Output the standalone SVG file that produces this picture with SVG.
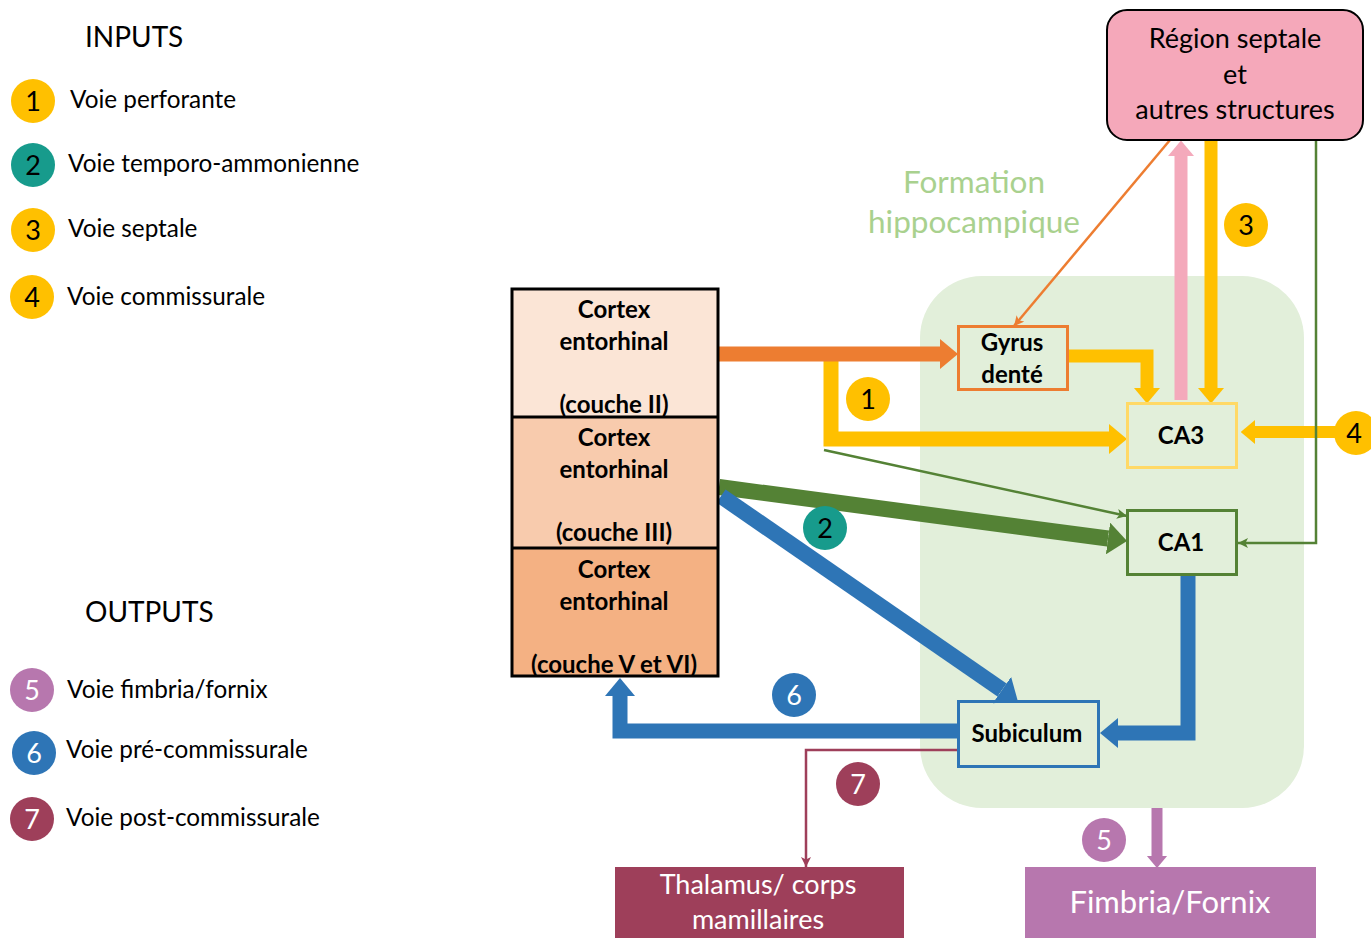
<svg xmlns="http://www.w3.org/2000/svg" width="1371" height="938" viewBox="0 0 1371 938">
<style>
  text { font-family: Lato, "Liberation Sans", sans-serif; }
  .leg { font-size: 24.3px; fill: #000; }
  .head { font-size: 28px; fill: #000; }
  .num { font-size: 27px; text-anchor: middle; }
  .nb { fill: #000; }
  .nw { fill: #fff; }
  .bold { font-weight: bold; font-size: 24px; text-anchor: middle; fill: #000; }
  .thick { fill: none; stroke-linejoin: miter; stroke-linecap: butt; }
  .thin { fill: none; stroke-width: 2.5; }
</style>
<defs>
  <marker id="hOr" viewBox="0 0 12 20" refX="0" refY="10" markerWidth="1.2" markerHeight="2" orient="auto"><path d="M0,0 L12,10 L0,20 Z" fill="#ED7D31"/></marker>
  <marker id="hYe" viewBox="0 0 12 20" refX="0" refY="10" markerWidth="1.2" markerHeight="2" orient="auto"><path d="M0,0 L12,10 L0,20 Z" fill="#FFC000"/></marker>
  <marker id="hGr" viewBox="0 0 12 20" refX="0" refY="10" markerWidth="1.2" markerHeight="2" orient="auto"><path d="M0,0 L12,10 L0,20 Z" fill="#548235"/></marker>
  <marker id="hBl" viewBox="0 0 12 20" refX="0" refY="10" markerWidth="1.2" markerHeight="2" orient="auto"><path d="M0,0 L12,10 L0,20 Z" fill="#2E75B6"/></marker>
  <marker id="hPk" viewBox="0 0 12 20" refX="0" refY="10" markerWidth="1.2" markerHeight="2" orient="auto"><path d="M0,0 L12,10 L0,20 Z" fill="#F4A9BB"/></marker>
  <marker id="hPu" viewBox="0 0 12 20" refX="0" refY="10" markerWidth="1.1" markerHeight="2.3" orient="auto"><path d="M0,0 L12,10 L0,20 Z" fill="#B777AE"/></marker>
  <marker id="tOr" viewBox="0 0 10 10" refX="10" refY="5" markerWidth="4" markerHeight="4" orient="auto"><path d="M0,0 L10,5 L0,10 L2.5,5 Z" fill="#ED7D31"/></marker>
  <marker id="tGr" viewBox="0 0 10 10" refX="10" refY="5" markerWidth="4" markerHeight="4" orient="auto"><path d="M0,0 L10,5 L0,10 L2.5,5 Z" fill="#548235"/></marker>
  <marker id="tDr" viewBox="0 0 10 10" refX="10" refY="5" markerWidth="4" markerHeight="4" orient="auto"><path d="M0,0 L10,5 L0,10 L2.5,5 Z" fill="#9E3F5A"/></marker>
</defs>
<rect width="1371" height="938" fill="#fff"/>

<!-- Legend -->
<g id="legend">
  <text class="head" x="85" y="47">INPUTS</text>
  <circle cx="33" cy="101" r="22" fill="#FFC000"/><text class="num nb" x="33" y="111">1</text>
  <text class="leg" x="70" y="108">Voie perforante</text>
  <circle cx="33" cy="165" r="22" fill="#179B8C"/><text class="num nb" x="33" y="175">2</text>
  <text class="leg" x="68" y="172">Voie temporo-ammonienne</text>
  <circle cx="33" cy="230" r="22" fill="#FFC000"/><text class="num nb" x="33" y="240">3</text>
  <text class="leg" x="68" y="237">Voie septale</text>
  <circle cx="32" cy="297" r="22" fill="#FFC000"/><text class="num nb" x="32" y="307">4</text>
  <text class="leg" x="67" y="305">Voie commissurale</text>

  <text class="head" x="85" y="622">OUTPUTS</text>
  <circle cx="32" cy="690" r="22" fill="#B777AE"/><text class="num nw" x="32" y="700">5</text>
  <text class="leg" x="67" y="698">Voie fimbria/fornix</text>
  <circle cx="34" cy="753" r="22" fill="#2E75B6"/><text class="num nw" x="34" y="763">6</text>
  <text class="leg" x="66" y="758">Voie pré-commissurale</text>
  <circle cx="32" cy="819" r="22" fill="#9E3F5A"/><text class="num nw" x="32" y="829">7</text>
  <text class="leg" x="66" y="826">Voie post-commissurale</text>
</g>

<!-- Hippocampal formation region -->
<g id="formation">
  <rect x="920" y="276" width="384" height="532" rx="62" fill="#E2EFDA"/>
  <text x="974" y="193" font-size="31.5" fill="#A9D18E" text-anchor="middle">Formation</text>
  <text x="974" y="233" font-size="31.5" fill="#A9D18E" text-anchor="middle">hippocampique</text>
</g>

<!-- Connectors -->
<g id="connectors">
  <path class="thick" d="M831,361 V439 H1109" stroke="#FFC000" stroke-width="15" marker-end="url(#hYe)"/>
  <path class="thick" d="M719,354 H940" stroke="#ED7D31" stroke-width="15" marker-end="url(#hOr)"/>
  <path class="thick" d="M1068,356 H1147 V388" stroke="#FFC000" stroke-width="13" marker-end="url(#hYe)"/>
  <path class="thick" d="M1211,140 V388" stroke="#FFC000" stroke-width="13" marker-end="url(#hYe)"/>
  <path class="thick" d="M1181,400 V156" stroke="#F4A9BB" stroke-width="13" marker-end="url(#hPk)"/>
  <path class="thick" d="M1336,432 H1255" stroke="#FFC000" stroke-width="12" marker-end="url(#hYe)"/>
  <path class="thick" d="M719,487 L1108,538.5" stroke="#548235" stroke-width="16" marker-end="url(#hGr)"/>
  <path class="thick" d="M721,496 L1002,690" stroke="#2E75B6" stroke-width="16" marker-end="url(#hBl)"/>
  <path class="thick" d="M1188,575 V733 H1118" stroke="#2E75B6" stroke-width="15" marker-end="url(#hBl)"/>
  <path class="thick" d="M958,731 H620 V696" stroke="#2E75B6" stroke-width="15" marker-end="url(#hBl)"/>
  <path class="thick" d="M1157,808 V856" stroke="#B777AE" stroke-width="11" marker-end="url(#hPu)"/>
  <path class="thin" d="M824,450 L1127,516" stroke="#548235" marker-end="url(#tGr)"/>
  <path class="thin" d="M1170,140 L1014,326" stroke="#ED7D31" marker-end="url(#tOr)"/>
  <path class="thin" d="M1316,140 V543 H1238" stroke="#548235" marker-end="url(#tGr)"/>
  <path class="thin" d="M958,750 H806 V867" stroke="#9E3F5A" marker-end="url(#tDr)"/>
</g>

<!-- Nodes -->
<g id="cortex">
  <rect x="512" y="289" width="206" height="128" fill="#FBE5D6"/>
  <rect x="512" y="417" width="206" height="131" fill="#F8CBAD"/>
  <rect x="512" y="548" width="206" height="128" fill="#F4B183"/>
  <rect x="512" y="289" width="206" height="387" fill="none" stroke="#000" stroke-width="3"/>
  <line x1="512" y1="417" x2="718" y2="417" stroke="#000" stroke-width="3"/>
  <line x1="512" y1="548" x2="718" y2="548" stroke="#000" stroke-width="3"/>
  <text class="bold" x="614" y="318">Cortex</text>
  <text class="bold" x="614" y="350">entorhinal</text>
  <text class="bold" x="614" y="413">(couche II)</text>
  <text class="bold" x="614" y="446">Cortex</text>
  <text class="bold" x="614" y="478">entorhinal</text>
  <text class="bold" x="614" y="541">(couche III)</text>
  <text class="bold" x="614" y="578">Cortex</text>
  <text class="bold" x="614" y="610">entorhinal</text>
  <text class="bold" x="614" y="673">(couche V et VI)</text>
</g>
<g id="gyrus">
  <rect x="958.5" y="326.5" width="109" height="63" fill="none" stroke="#ED7D31" stroke-width="3"/>
  <text class="bold" x="1012" y="351">Gyrus</text>
  <text class="bold" x="1012" y="383">denté</text>
</g>
<g id="ca3">
  <rect x="1127.5" y="403.5" width="109" height="64" fill="none" stroke="#FFD966" stroke-width="3"/>
  <text class="bold" x="1181" y="444">CA3</text>
</g>
<g id="ca1">
  <rect x="1127.5" y="510.5" width="109" height="64" fill="none" stroke="#548235" stroke-width="3"/>
  <text class="bold" x="1181" y="551">CA1</text>
</g>
<g id="subiculum">
  <rect x="958.5" y="701.5" width="140" height="65" fill="none" stroke="#2E75B6" stroke-width="3"/>
  <text class="bold" x="1027" y="742">Subiculum</text>
</g>
<g id="septale">
  <rect x="1107" y="10" width="256" height="130" rx="20" fill="#F5A8BA" stroke="#000" stroke-width="2"/>
  <text x="1235" y="48" font-size="27" text-anchor="middle" fill="#000">Région septale</text>
  <text x="1235" y="84" font-size="27" text-anchor="middle" fill="#000">et</text>
  <text x="1235" y="119" font-size="27" text-anchor="middle" fill="#000">autres structures</text>
</g>
<g id="thalamus">
  <rect x="615" y="867" width="289" height="75" fill="#9E3F5A"/>
  <text x="758" y="894" font-size="27" text-anchor="middle" fill="#fff">Thalamus/ corps</text>
  <text x="758" y="929" font-size="27" text-anchor="middle" fill="#fff">mamillaires</text>
</g>
<g id="fimbria">
  <rect x="1025" y="867" width="291" height="75" fill="#B777AE"/>
  <text x="1170" y="913" font-size="31" text-anchor="middle" fill="#fff">Fimbria/Fornix</text>
</g>

<!-- Pathway labels -->
<g id="labels">
  <circle cx="868" cy="399" r="22" fill="#FFC000"/><text class="num nb" x="868" y="409">1</text>
  <circle cx="825" cy="528" r="22" fill="#179B8C"/><text class="num nb" x="825" y="538">2</text>
  <circle cx="1246" cy="225" r="22" fill="#FFC000"/><text class="num nb" x="1246" y="235">3</text>
  <circle cx="1356" cy="433" r="22" fill="#FFC000"/><text class="num nb" x="1354" y="443">4</text>
  <circle cx="794" cy="695" r="22" fill="#2E75B6"/><text class="num nw" x="794" y="705">6</text>
  <circle cx="858" cy="784" r="22" fill="#9E3F5A"/><text class="num nw" x="858" y="794">7</text>
  <circle cx="1104" cy="840" r="22" fill="#B777AE"/><text class="num nw" x="1104" y="850">5</text>
</g>
</svg>
